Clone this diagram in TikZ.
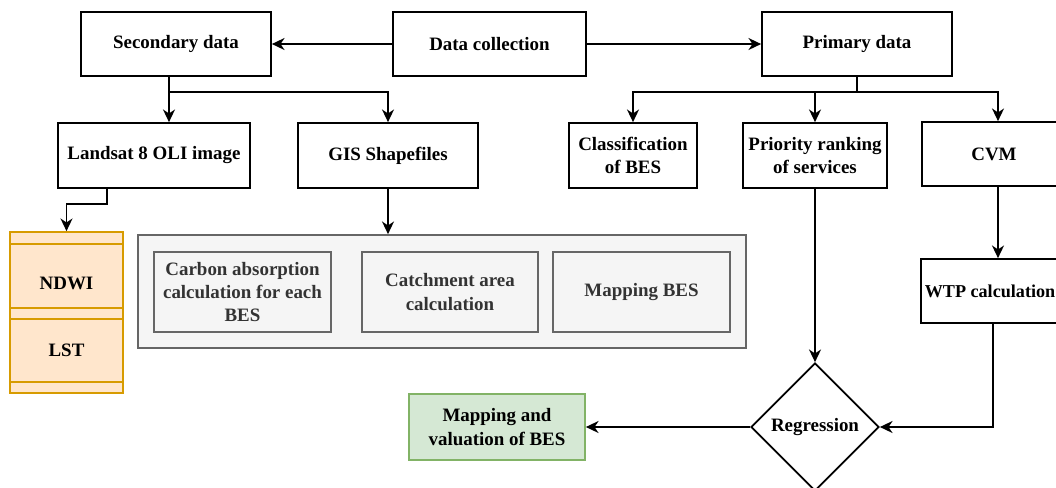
\documentclass[tikz,border=0pt]{standalone}
\usepackage{fontspec}
\setmainfont{Liberation Serif}
\usepackage{tikz}
\usetikzlibrary{arrows.meta,positioning,shapes.geometric}
\definecolor{boxgray}{RGB}{245,245,245}
\definecolor{linegray}{RGB}{102,102,102}
\definecolor{textgray}{RGB}{51,51,51}
\definecolor{boxorange}{RGB}{255,230,204}
\definecolor{lineorange}{RGB}{215,155,0}
\definecolor{boxgreen}{RGB}{213,232,212}
\definecolor{linegreen}{RGB}{130,179,102}

\begin{document}
\begin{tikzpicture}[x=0.75pt,y=-0.75pt,
    every node/.style={font=\bfseries\fontsize{14.2}{17.6}\selectfont,align=center,inner sep=1pt},
    box/.style={draw=black,line width=1.3pt,fill=white},
    graybox/.style={draw=linegray,line width=1.3pt,fill=boxgray,text=textgray},
    link/.style={line width=1.3pt,-{Stealth[length=9.5pt,width=9pt,inset=3pt]}}]
  \useasboundingbox (0,0) rectangle (1056,487);

  % top row
  \node[box,minimum width=142.5pt,minimum height=48pt] (sec) at (176,44) {Secondary data};
  \node[box,minimum width=144.75pt,minimum height=48pt] (coll) at (489.5,44) {Data collection};
  \node[box,minimum width=142.5pt,minimum height=48pt] (prim) at (857,44) {Primary data};
  \draw[link] (coll.west) -- (sec.east);
  \draw[link] (coll.east) -- (prim.west);

  % second row
  \node[box,minimum width=144pt,minimum height=48.75pt] (land) at (154,155.5) {Landsat 8 OLI image};
  \node[box,minimum width=135pt,minimum height=48.75pt] (gis) at (388,155.5) {GIS Shapefiles};
  \node[box,minimum width=96pt,minimum height=48.75pt] (cls) at (633,155.5) {Classification\\of BES};
  \node[box,minimum width=108pt,minimum height=48.75pt] (prio) at (815,155.5) {Priority ranking\\of services};
  \node[box,minimum width=108pt,minimum height=48pt] (cvm) at (994,154) {CVM};

  \coordinate (split1) at (169,92);
  \draw[line width=1.3pt] (split1 |- sec.south) -- (split1);
  \draw[link] (split1) -- (split1 |- land.north);
  \draw[link] (split1) -| (gis.north);

  \coordinate (split2) at (prim.south |- 0,92);
  \draw[line width=1.3pt] (prim.south) -- (split2);
  \draw[link] (split2) -| (cls.north);
  \draw[link] (prim.south |- split2) -| (prio.north);
  \draw[link] (split2) -| ([xshift=3pt]cvm.north);

  % NDWI / LST list
  \node[draw=lineorange,line width=1.3pt,fill=boxorange,minimum width=84.75pt,minimum height=120.75pt] (ndlst) at (66.5,312.5) {};
  \foreach \yy in {244,308,319,382}
    \draw[lineorange,line width=1.3pt] (ndlst.west |- 0,\yy) -- (ndlst.east |- 0,\yy);
  \node (ndwi) at (66.5,283) {NDWI};
  \node (lst) at (66.5,350) {LST};
  \draw[link] ([xshift=-35.25pt]land.south) -- ++(0,15) -| (ndlst.north);

  % GIS tasks
  \node[graybox,minimum width=456pt,minimum height=84.75pt] (cont) at (442,291.5) {};
  \node[graybox,minimum width=132.75pt,minimum height=60pt] (carbon) at (242.5,292) {Carbon absorption\\calculation for each\\BES};
  \node[graybox,minimum width=132pt,minimum height=60pt] (catch) at (450,292) {Catchment area\\calculation};
  \node[graybox,minimum width=132.75pt,minimum height=60pt] (mapbes) at (641.5,292) {Mapping BES};
  \draw[link] (gis.south) -- (gis.south |- cont.north);

  % valuation
  \node[box,minimum width=103.5pt,minimum height=48pt,font=\bfseries\fontsize{13.6}{16}\selectfont] (wtp) at (990,291) {WTP calculation};
  \draw[link] ([xshift=3pt]cvm.south) -- ([xshift=3pt]cvm.south |- wtp.north);
  \node[box,diamond,aspect=1,minimum width=96pt,minimum height=96pt,inner sep=0pt] (reg) at (815,427) {Regression};
  \draw[link] (prio.south) -- (reg.north);
  \draw[link] ([xshift=2pt]wtp.south) |- (reg.east);
  \node[draw=linegreen,line width=1.3pt,fill=boxgreen,minimum width=132pt,minimum height=49.5pt] (valmap) at (497,427) {Mapping and\\valuation of BES};
  \draw[link] (reg.west) -- (valmap.east);
\end{tikzpicture}
\end{document}
